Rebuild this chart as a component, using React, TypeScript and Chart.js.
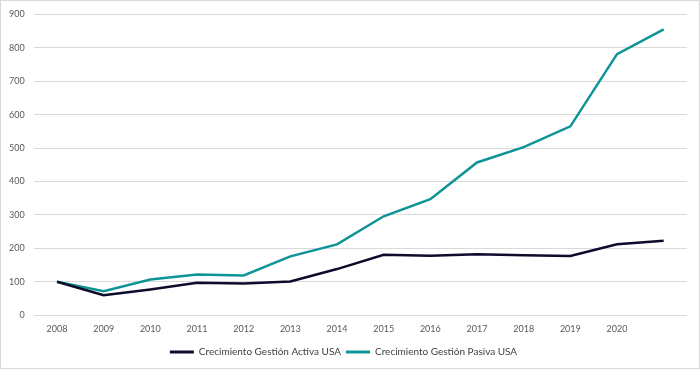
import React, { useEffect, useRef } from "react";
import { Chart, registerables } from "chart.js";

Chart.register(...registerables);

const years = ["2008", "2009", "2010", "2011", "2012", "2013", "2014", "2015", "2016", "2017", "2018", "2019", "2020", ""];
const activa = [100, 60, 77, 97, 95, 101, 138, 181, 178, 182, 179, 177, 212, 223];
const pasiva = [100, 72, 107, 122, 119, 176, 212, 296, 347, 457, 503, 565, 781, 855];
const seriesNames = ["Crecimiento Gestión Activa USA", "Crecimiento Gestión Pasiva USA"];
const FONT = "Lato";

export default function App() {
  const ref = useRef<HTMLCanvasElement>(null);
  useEffect(() => {
    document.body.style.margin = "0";
    const chart = new Chart(ref.current!, {
      type: "line",
      data: {
        labels: years,
        datasets: [
          { label: seriesNames[0], data: activa, borderColor: "#0c0c2c", backgroundColor: "#0c0c2c", borderWidth: 2.5, pointRadius: 0, tension: 0 },
          { label: seriesNames[1], data: pasiva, borderColor: "#0e9396", backgroundColor: "#0e9396", borderWidth: 2.5, pointRadius: 0, tension: 0 },
        ],
      },
      options: {
        animation: false,
        responsive: false,
        layout: { padding: { top: 8, right: 13, left: 0, bottom: 2 } },
        plugins: {
          tooltip: { enabled: false },
          legend: {
            position: "bottom",
            labels: {
              color: "#404040",
              font: { family: FONT, size: 10 },
              boxWidth: 24,
              boxHeight: 3,
              padding: 5,
              generateLabels: (c: any) =>
                c.data.datasets.map((d: any, i: number) => ({
                  text: d.label,
                  fillStyle: d.borderColor,
                  strokeStyle: d.borderColor,
                  lineWidth: 0,
                  fontColor: "#404040",
                  datasetIndex: i,
                  hidden: false,
                })),
            },
          },
        },
        scales: {
          x: {
            offset: true,
            grid: { display: false },
            border: { display: false },
            ticks: { color: "#595959", font: { family: FONT, size: 9 }, maxRotation: 0, autoSkip: false, padding: 0 },
            afterFit: (s: any) => {
              s.height += 8;
            },
          },
          y: {
            min: 0,
            max: 900,
            grid: { color: "#d9d9d9", lineWidth: 1, drawTicks: false },
            border: { display: false },
            ticks: { stepSize: 100, color: "#595959", font: { family: FONT, size: 9 }, padding: 9 },
          },
        },
      },
      plugins: [
        {
          id: "frame",
          afterDraw(c: any) {
            const ctx = c.ctx;
            ctx.save();
            ctx.strokeStyle = "#d9d9d9";
            ctx.lineWidth = 1;
            ctx.strokeRect(0.5, 0.5, c.width - 1, c.height - 1);
            ctx.restore();
          },
        },
      ],
    });
    return () => chart.destroy();
  }, []);
  return <canvas ref={ref} width={700} height={369} style={{ display: "block" }} />;
}
